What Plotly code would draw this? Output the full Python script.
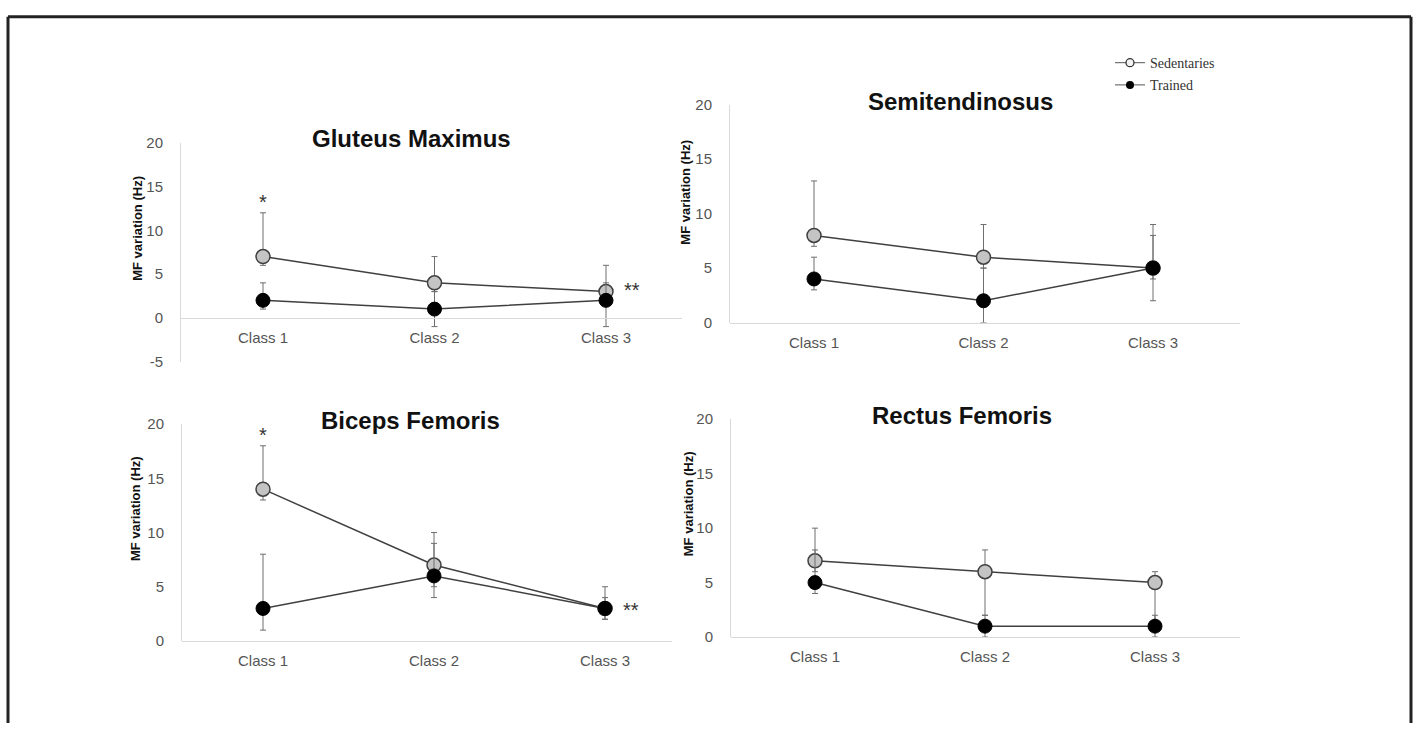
import plotly.graph_objects as go

W, H = 1417, 731

categories = ["Class 1", "Class 2", "Class 3"]
series_names = ["Sedentaries", "Trained"]

panel_titles = ["Gluteus Maximus", "Semitendinosus", "Biceps Femoris", "Rectus Femoris"]

# Gluteus Maximus
gm_sed = [7, 4, 3]
gm_sed_plus = [5, 3, 3]
gm_sed_minus = [1, 1, 1]
gm_trn = [2, 1, 2]
gm_trn_plus = [2, 2, 2]
gm_trn_minus = [1, 2, 3]

# Semitendinosus
st_sed = [8, 6, 5]
st_sed_plus = [5, 3, 4]
st_sed_minus = [1, 1, 1]
st_trn = [4, 2, 5]
st_trn_plus = [2, 3, 3]
st_trn_minus = [1, 2, 3]

# Biceps Femoris
bf_sed = [14, 7, 3]
bf_sed_plus = [4, 3, 2]
bf_sed_minus = [1, 2, 1]
bf_trn = [3, 6, 3]
bf_trn_plus = [5, 3, 1]
bf_trn_minus = [2, 2, 1]

# Rectus Femoris
rf_sed = [7, 6, 5]
rf_sed_plus = [3, 2, 1]
rf_sed_minus = [1, 4, 4]
rf_trn = [5, 1, 1]
rf_trn_plus = [3, 1, 1]
rf_trn_minus = [1, 1, 1]

y_tick_gm = [-5, 0, 5, 10, 15, 20]
y_tick_gm_text = ["-5", "0", "5", "10", "15", "20"]
y_tick_other = [0, 5, 10, 15, 20]
y_tick_other_text = ["0", "5", "10", "15", "20"]

# layout geometry (pixels): axis extent, first/last category centre, y pixel of top/bottom of range
panels = [
    dict(title=panel_titles[0], sed=gm_sed, sp=gm_sed_plus, sm=gm_sed_minus,
         trn=gm_trn, tp=gm_trn_plus, tm=gm_trn_minus,
         xpx=(181, 682), cpx=(263, 606), ypx=(137, 361), yr=(-5, 20),
         ticks=y_tick_gm, ticktext=y_tick_gm_text,
         tpos=(411, 133), ylab=(138, 225)),
    dict(title=panel_titles[1], sed=st_sed, sp=st_sed_plus, sm=st_sed_minus,
         trn=st_trn, tp=st_trn_plus, tm=st_trn_minus,
         xpx=(730, 1240), cpx=(814, 1153), ypx=(98, 321), yr=(0, 20),
         ticks=y_tick_other, ticktext=y_tick_other_text,
         tpos=(960, 95), ylab=(686, 188)),
    dict(title=panel_titles[2], sed=bf_sed, sp=bf_sed_plus, sm=bf_sed_minus,
         trn=bf_trn, tp=bf_trn_plus, tm=bf_trn_minus,
         xpx=(182, 672), cpx=(263, 605), ypx=(425, 647), yr=(0, 20),
         ticks=y_tick_other, ticktext=y_tick_other_text,
         tpos=(410, 421), ylab=(135, 512)),
    dict(title=panel_titles[3], sed=rf_sed, sp=rf_sed_plus, sm=rf_sed_minus,
         trn=rf_trn, tp=rf_trn_plus, tm=rf_trn_minus,
         xpx=(731, 1240), cpx=(815, 1155), ypx=(420, 643), yr=(0, 20),
         ticks=y_tick_other, ticktext=y_tick_other_text,
         tpos=(962, 416), ylab=(688, 507)),
]

def px_x(p):
    return p / W

def px_y(p):
    return 1 - p / H

fig = go.Figure()
layout = dict(width=W, height=H, margin=dict(l=0, r=0, t=0, b=0),
              paper_bgcolor="white", plot_bgcolor="white", showlegend=True)
annotations = []

sans = "Arial, Liberation Sans, sans-serif"
tick_font = dict(family=sans, size=15, color="#555555")
line_col = "#404040"
err_col = "#6e6e6e"

for i, p in enumerate(panels):
    n = i + 1
    xa = "x" if n == 1 else f"x{n}"
    ya = "y" if n == 1 else f"y{n}"
    xdom = [px_x(p["xpx"][0]), px_x(p["xpx"][1])]
    ydom = [px_y(p["ypx"][1]), px_y(p["ypx"][0])]
    y0, y1 = p["yr"]
    zero_pos = ydom[0] + (0 - y0) / (y1 - y0) * (ydom[1] - ydom[0])
    step = (p["cpx"][1] - p["cpx"][0]) / (len(categories) - 1)
    xr = [-(p["cpx"][0] - p["xpx"][0]) / step,
          (len(categories) - 1) + (p["xpx"][1] - p["cpx"][1]) / step]

    fig.add_trace(go.Scatter(
        x=categories, y=p["sed"], xaxis=xa, yaxis=ya, mode="lines+markers",
        name=series_names[0], showlegend=False,
        line=dict(color=line_col, width=1.5),
        marker=dict(size=14, color="#c4c4c4", line=dict(color=line_col, width=1.5)),
        error_y=dict(type="data", array=p["sp"], arrayminus=p["sm"],
                     color=err_col, thickness=1, width=3)))
    fig.add_trace(go.Scatter(
        x=categories, y=p["trn"], xaxis=xa, yaxis=ya, mode="lines+markers",
        name=series_names[1], showlegend=False,
        line=dict(color=line_col, width=1.5),
        marker=dict(size=14, color="#000000", line=dict(color="#000000", width=1)),
        error_y=dict(type="data", array=p["tp"], arrayminus=p["tm"],
                     color=err_col, thickness=1, width=3)))

    layout["xaxis" if n == 1 else f"xaxis{n}"] = dict(
        domain=xdom, range=xr,
        anchor="free", position=zero_pos, showline=True, linecolor="#d9d9d9",
        linewidth=1, showgrid=False, zeroline=False, ticks="",
        tickfont=tick_font, ticklabelstandoff=6, fixedrange=True,
        type="category")
    layout["yaxis" if n == 1 else f"yaxis{n}"] = dict(
        domain=ydom, range=[y0, y1], anchor=xa, showline=True,
        linecolor="#d9d9d9", linewidth=1, showgrid=False, zeroline=False,
        ticks="", tickvals=p["ticks"], ticktext=p["ticktext"], tickfont=tick_font,
        ticklabelstandoff=14, fixedrange=True)

    annotations.append(dict(
        text=f"<b>{p['title']}</b>", x=px_x(p["tpos"][0]), y=px_y(p["tpos"][1]),
        xref="paper", yref="paper", showarrow=False,
        font=dict(family=sans, size=24, color="#111111"),
        xanchor="center", yanchor="middle"))
    annotations.append(dict(
        text="<b>MF variation (Hz)</b>", x=px_x(p["ylab"][0]), y=px_y(p["ylab"][1]),
        xref="paper", yref="paper", showarrow=False, textangle=-90,
        font=dict(family=sans, size=13, color="#111111"),
        xanchor="center", yanchor="middle"))

# significance marks
for n, ystar in ((1, 13.2), (3, 19.0)):
    xa = "x" if n == 1 else f"x{n}"
    ya = "y" if n == 1 else f"y{n}"
    annotations.append(dict(text="*", x=categories[0], y=ystar, xref=xa, yref=ya,
                            showarrow=False, font=dict(family=sans, size=20, color="#333333"),
                            xanchor="center", yanchor="middle"))
for n, yss in ((1, 3.2), (3, 2.9)):
    xa = "x" if n == 1 else f"x{n}"
    ya = "y" if n == 1 else f"y{n}"
    annotations.append(dict(text="**", x=categories[2], y=yss, xref=xa, yref=ya,
                            showarrow=False, xshift=26,
                            font=dict(family=sans, size=20, color="#333333"),
                            xanchor="center", yanchor="middle"))

# legend-only traces with small markers
fig.add_trace(go.Scatter(x=[None], y=[None], mode="lines+markers", name=series_names[0],
                         legendgroup="a",
                         line=dict(color="#555555", width=1),
                         marker=dict(size=8, color="#f2f2f2", line=dict(color="#333333", width=1.3))))
fig.add_trace(go.Scatter(x=[None], y=[None], mode="lines+markers", name=series_names[1],
                         legendgroup="b",
                         line=dict(color="#555555", width=1),
                         marker=dict(size=8, color="black")))

layout["legend"] = dict(x=px_x(1110), y=px_y(39), xanchor="left", yanchor="top",
                        font=dict(family="Liberation Serif, Times New Roman, serif",
                                  size=14, color="#333333"),
                        itemwidth=30, tracegroupgap=1, bgcolor="rgba(0,0,0,0)")
layout["annotations"] = annotations

# outer frame (top, left, right)
bc = "#222222"
layout["shapes"] = [
    dict(type="line", xref="paper", yref="paper", x0=px_x(8), x1=px_x(1411),
         y0=px_y(8), y1=px_y(8), line=dict(color=bc, width=3)),
    dict(type="line", xref="paper", yref="paper", x0=px_x(8), x1=px_x(8),
         y0=px_y(8), y1=0, line=dict(color=bc, width=3)),
    dict(type="line", xref="paper", yref="paper", x0=px_x(1411), x1=px_x(1411),
         y0=px_y(8), y1=0, line=dict(color=bc, width=3)),
]

fig.update_layout(**layout)
fig.write_html("out.html", config={"displayModeBar": False},
               post_script=("document.body.style.margin='0';"
                            "document.body.style.overflow='hidden';"
                            "document.documentElement.style.overflow='hidden';"))
